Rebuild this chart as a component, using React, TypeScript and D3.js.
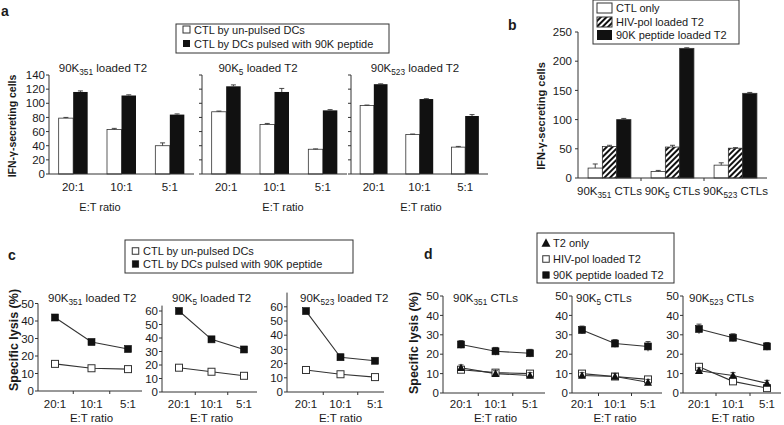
import React from "react";
import * as d3 from "d3";

const FONT = "'Liberation Sans', Arial, Helvetica, sans-serif";
const INK = "#1a1a1a";
const AXIS = "#333";

// E:T ratios, shared by every subplot
const ratios = ["20:1", "10:1", "5:1"];
// peptide subscripts (90K351, 90K5, 90K523)
const peptides = ["351", "5", "523"];

// panel a: IFN-γ secreting cells
const aUnpulsed = [[79, 63, 40], [88, 70, 35], [97, 56, 38]];
const aUnpulsedErr = [[1, 1.5, 4], [1, 1.5, 0.5], [0.5, 0.5, 1]];
const aPulsed = [[116, 111, 84], [124, 116, 90], [127, 106, 82]];
const aPulsedErr = [[1.5, 1, 1], [2, 5, 1], [0.5, 0.5, 2]];
const aTicks = [0, 20, 40, 60, 80, 100, 120, 140];

// panel b
const bCtlOnly = [17, 11, 22];
const bCtlOnlyErr = [7, 2, 4];
const bHivPol = [54, 53, 51];
const bHivPolErr = [2, 3, 1];
const bPeptide = [100, 222, 145];
const bPeptideErr = [2, 1, 1.5];
const bTicks = [0, 50, 100, 150, 200, 250];

// panel c: specific lysis
const cUnpulsed = [[15.5, 13, 12.5], [18, 15, 12], [15.5, 12.5, 10.5]];
const cUnpulsedErr = [[1.2, 1, 1], [1, 1, 1], [1.2, 1, 1]];
const cPulsed = [[42, 28, 24], [60, 39, 31.5], [57, 24.5, 22]];
const cPulsedErr = [[1.5, 1.5, 1.5], [1, 1, 1.5], [1.5, 2, 1.5]];
const cTicks = [[0, 10, 20, 30, 40, 50], [0, 10, 20, 30, 40, 50, 60], [0, 10, 20, 30, 40, 50, 60]];

// panel d
const dT2Only = [[13, 10, 9], [9, 8.5, 5.5], [11.5, 9, 5]];
const dT2OnlyErr = [[1.5, 1.5, 1.5], [1.5, 1.5, 1.5], [1.5, 1.5, 1.5]];
const dHivPol = [[12, 10.5, 10], [10, 8.5, 7], [13.5, 6, 2.5]];
const dHivPolErr = [[1.5, 1.5, 1.5], [1.5, 1, 1.5], [1, 1, 1]];
const dPeptide = [[25, 21.5, 20.5], [32.5, 25.5, 24], [33, 28.5, 24]];
const dPeptideErr = [[2, 2, 2], [2, 2, 2.5], [2.5, 2, 2]];
const dTicks = [0, 10, 20, 30, 40, 50];

// frame geometry
const aFrames = [
  { x0: 49, x1: 194, tx: 103, lx: 100 },
  { x0: 202, x1: 347, tx: 258, lx: 283 },
  { x0: 351, x1: 488, tx: 415, lx: 421 },
];
const cFrames = [
  { x0: 38, x1: 142, p0: 55, p1: 128, y0: 391, k: 1.75, top: 50, tx: 48 },
  { x0: 162, x1: 257, p0: 179, p1: 244, y0: 392, k: 1.35, top: 64, tx: 172 },
  { x0: 287, x1: 384, p0: 306, p1: 375, y0: 392, k: 1.42, top: 70, tx: 300 },
];
const dFrames = [
  { x0: 443, x1: 545, p0: 461, p1: 530, y0: 393, k: 1.94, top: 50, tx: 453 },
  { x0: 572, x1: 662, p0: 582, p1: 648, y0: 393, k: 1.94, top: 50, tx: 576 },
  { x0: 683, x1: 781, p0: 699, p1: 767, y0: 393, k: 1.94, top: 50, tx: 689 },
];

const Pep = ({ sub, rest, size }: { sub: string; rest: string; size: number }) => (
  <>
    <tspan>90K</tspan>
    <tspan fontSize={size * 0.72} dy={3}>{sub}</tspan>
    <tspan dy={-3}>{rest}</tspan>
  </>
);

const ErrBar = ({ x, y1, y2 }: { x: number; y1: number; y2: number }) => (
  <g stroke={AXIS} strokeWidth={0.9}>
    <line x1={x} x2={x} y1={y1} y2={y2} />
    <line x1={x - 2.5} x2={x + 2.5} y1={y2} y2={y2} />
  </g>
);

const Marker = ({ kind, x, y, s = 7 }: { kind: string; x: number; y: number; s?: number }) => {
  if (kind === "tri") {
    const h = s * 0.95;
    return <path d={`M${x},${y - h / 2 - 1}L${x + s / 2 + 0.5},${y + h / 2}L${x - s / 2 - 0.5},${y + h / 2}Z`} fill="#111" />;
  }
  if (kind === "open")
    return <rect x={x - s / 2} y={y - s / 2} width={s} height={s} fill="#fff" stroke="#333" strokeWidth={1} />;
  return <rect x={x - s / 2} y={y - s / 2} width={s} height={s} fill="#111" stroke="#111" strokeWidth={0.6} />;
};

function PanelASub({ i }: { i: number }) {
  const f = aFrames[i];
  const y = d3.scaleLinear().domain([0, 140]).range([174, 75]);
  const x = d3.scaleBand().domain(ratios).range([f.x0, f.x1]).paddingInner(0.4).paddingOuter(0.2);
  const xi = d3.scaleBand().domain(["u", "p"]).range([0, x.bandwidth()]);
  return (
    <g>
      {ratios.map((r, j) => {
        const gx = x(r)!;
        const u = aUnpulsed[i][j], p = aPulsed[i][j];
        const ux = gx + xi("u")!, px = gx + xi("p")!;
        const w = xi.bandwidth();
        return (
          <g key={r}>
            <rect x={ux} y={y(u)} width={w} height={y(0) - y(u)} fill="#fff" stroke={AXIS} strokeWidth={0.8} />
            <rect x={px} y={y(p)} width={w} height={y(0) - y(p)} fill="#111" />
            <ErrBar x={ux + w / 2} y1={y(u)} y2={y(u + aUnpulsedErr[i][j])} />
            <ErrBar x={px + w / 2} y1={y(p)} y2={y(p + aPulsedErr[i][j])} />
            <text x={gx + x.bandwidth() / 2} y={191} textAnchor="middle" fontSize={11.5}>{r}</text>
          </g>
        );
      })}
      <line x1={f.x0} x2={f.x1} y1={y(0)} y2={y(0)} stroke={AXIS} />
      <line x1={f.x0} x2={f.x0} y1={y(0)} y2={y(140)} stroke={AXIS} />
      {aTicks.map((t) => (
        <g key={t}>
          <line x1={f.x0 - 3} x2={f.x0} y1={y(t)} y2={y(t)} stroke={AXIS} />
          {i === 0 && (
            <text x={f.x0 - 4} y={y(t)} dy="0.36em" textAnchor="end" fontSize={11.5}>{t}</text>
          )}
        </g>
      ))}
      <text x={f.tx} y={72} textAnchor="middle" fontSize={11.5}>
        <Pep sub={peptides[i]} rest=" loaded T2" size={11.5} />
      </text>
      <text x={f.lx} y={211} textAnchor="middle" fontSize={11}>E:T ratio</text>
    </g>
  );
}

function PanelB() {
  const y = d3.scaleLinear().domain([0, 250]).range([178, 32]);
  const x = d3.scaleBand().domain(peptides).range([578, 767]).paddingInner(0.32).paddingOuter(0.16);
  const xi = d3.scaleBand().domain(["c", "h", "p"]).range([0, x.bandwidth()]);
  const w = xi.bandwidth();
  const series = [
    { key: "c", vals: bCtlOnly, errs: bCtlOnlyErr, fill: "#fff" },
    { key: "h", vals: bHivPol, errs: bHivPolErr, fill: "url(#hatch)" },
    { key: "p", vals: bPeptide, errs: bPeptideErr, fill: "#111" },
  ];
  return (
    <g>
      {peptides.map((g, j) => (
        <g key={g}>
          {series.map((s) => {
            const bx = x(g)! + xi(s.key)!;
            const v = s.vals[j];
            return (
              <g key={s.key}>
                <rect x={bx} y={y(v)} width={w} height={y(0) - y(v)} fill={s.fill} stroke={AXIS} strokeWidth={0.8} />
                <ErrBar x={bx + w / 2} y1={y(v)} y2={y(v + s.errs[j])} />
              </g>
            );
          })}
          <text x={x(g)! + x.bandwidth() / 2} y={195} textAnchor="middle" fontSize={11.5}>
            <Pep sub={g} rest=" CTLs" size={11.5} />
          </text>
          {j > 0 && (
            <line
              x1={(x(peptides[j - 1])! + x.bandwidth() + x(g)!) / 2}
              x2={(x(peptides[j - 1])! + x.bandwidth() + x(g)!) / 2}
              y1={y(0)} y2={y(0) + 3} stroke={AXIS}
            />
          )}
        </g>
      ))}
      <line x1={578} x2={767} y1={y(0)} y2={y(0)} stroke={AXIS} />
      <line x1={578} x2={578} y1={y(0)} y2={y(250)} stroke={AXIS} />
      {bTicks.map((t) => (
        <g key={t}>
          <line x1={575} x2={578} y1={y(t)} y2={y(t)} stroke={AXIS} />
          <text x={572} y={y(t)} dy="0.36em" textAnchor="end" fontSize={11.5}>{t}</text>
        </g>
      ))}
      <text transform="translate(545,116) rotate(-90)" textAnchor="middle" fontSize={11} fontWeight="bold">
        IFN-γ-secreting cells
      </text>
    </g>
  );
}

type Series = { vals: number[]; errs: number[]; marker: string };

function LineSub({ f, ticks, series, title }: { f: any; ticks: number[]; series: Series[]; title: React.ReactNode }) {
  const y = d3.scaleLinear().domain([0, f.top]).range([f.y0, f.y0 - f.top * f.k]);
  const x = d3.scalePoint().domain(ratios).range([f.p0, f.p1]);
  const line = d3.line<number>().x((_, j) => x(ratios[j])!).y((v) => y(v));
  return (
    <g>
      {series.map((s, si) => (
        <path key={si} d={line(s.vals)!} fill="none" stroke="#333" strokeWidth={1.1} />
      ))}
      {series.map((s, si) => (
        <g key={si}>
          {s.vals.map((v, j) => (
            <g key={j}>
              <ErrBar x={x(ratios[j])!} y1={y(v - s.errs[j])} y2={y(v + s.errs[j])} />
              <Marker kind={s.marker} x={x(ratios[j])!} y={y(v)} />
            </g>
          ))}
        </g>
      ))}
      <line x1={f.x0} x2={f.x1} y1={f.y0} y2={f.y0} stroke={AXIS} />
      <line x1={f.x0} x2={f.x0} y1={f.y0} y2={y(f.top)} stroke={AXIS} />
      {ticks.map((t) => (
        <g key={t}>
          <line x1={f.x0 - 3} x2={f.x0} y1={y(t)} y2={y(t)} stroke={AXIS} />
          <text x={f.x0 - 4} y={y(t)} dy="0.36em" textAnchor="end" fontSize={11.5}>{t}</text>
        </g>
      ))}
      {ratios.slice(1).map((r, j) => {
        const mx = (x(ratios[j])! + x(r)!) / 2;
        return <line key={r} x1={mx} x2={mx} y1={f.y0} y2={f.y0 + 3} stroke={AXIS} />;
      })}
      {ratios.map((r) => (
        <text key={r} x={x(r)!} y={408} textAnchor="middle" fontSize={11.5}>{r}</text>
      ))}
      <text x={(f.p0 + f.p1) / 2} y={422} textAnchor="middle" fontSize={11.5}>E:T ratio</text>
      <text x={f.tx} y={302} fontSize={11.5}>{title}</text>
    </g>
  );
}

export default function App() {
  return (
    <svg
      width={784}
      height={425}
      style={{ position: "absolute", left: 0, top: 0, background: "#fff" }}
      fontFamily={FONT}
      fill={INK}
    >
      <defs>
        <pattern id="hatch" width={4} height={4} patternUnits="userSpaceOnUse" patternTransform="rotate(45)">
          <rect width={4} height={4} fill="#fff" />
          <line x1={1} y1={0} x2={1} y2={4} stroke="#111" strokeWidth={2} />
        </pattern>
      </defs>
      <rect width={784} height={425} fill="#fff" />

      {/* panel a */}
      <text x={1} y={16} fontSize={14} fontWeight="bold">a</text>
      <rect x={176} y={24} width={213} height={29} fill="#fff" stroke={AXIS} />
      <rect x={183} y={26} width={7} height={7} fill="#fff" stroke="#333" />
      <text x={194} y={33.5} fontSize={11}>CTL by un-pulsed DCs</text>
      <rect x={183} y={40} width={7} height={7} fill="#111" />
      <text x={194} y={47.5} fontSize={11}>CTL by DCs pulsed with 90K peptide</text>
      {aFrames.map((_, i) => <PanelASub key={i} i={i} />)}
      <text transform="translate(16,126) rotate(-90)" textAnchor="middle" fontSize={10.5} fontWeight="bold">
        IFN-γ-secreting cells
      </text>

      {/* panel b */}
      <text x={508} y={30} fontSize={14} fontWeight="bold">b</text>
      <rect x={593} y={0} width={146} height={44} fill="#fff" stroke={AXIS} />
      <rect x={597} y={3} width={15} height={10} fill="#fff" stroke="#333" />
      <text x={616} y={12} fontSize={11}>CTL only</text>
      <rect x={597} y={17} width={15} height={10} fill="url(#hatch)" stroke="#333" />
      <text x={616} y={26} fontSize={11}>HIV-pol loaded T2</text>
      <rect x={597} y={30} width={15} height={10} fill="#111" />
      <text x={616} y={39} fontSize={11}>90K peptide loaded T2</text>
      <PanelB />

      {/* panel c */}
      <text x={8} y={260} fontSize={14} fontWeight="bold">c</text>
      <rect x={125} y={240} width={228} height={33} fill="#fff" stroke={AXIS} />
      <Marker kind="open" x={135.5} y={251} s={6.5} />
      <text x={143} y={255} fontSize={11}>CTL by un-pulsed DCs</text>
      <Marker kind="filled" x={135.5} y={264} s={6.5} />
      <text x={143} y={268} fontSize={11}>CTL by DCs pulsed with 90K peptide</text>
      {cFrames.map((f, i) => (
        <LineSub
          key={i}
          f={f}
          ticks={cTicks[i]}
          series={[
            { vals: cUnpulsed[i], errs: cUnpulsedErr[i], marker: "open" },
            { vals: cPulsed[i], errs: cPulsedErr[i], marker: "filled" },
          ]}
          title={<Pep sub={peptides[i]} rest=" loaded T2" size={11.5} />}
        />
      ))}
      <text transform="translate(18,340) rotate(-90)" textAnchor="middle" fontSize={12.5} fontWeight="bold">
        Specific lysis (%)
      </text>

      {/* panel d */}
      <text x={424} y={259} fontSize={14} fontWeight="bold">d</text>
      <rect x={537} y={233} width={137} height={50} fill="#fff" stroke={AXIS} />
      <Marker kind="tri" x={546} y={243} s={8} />
      <text x={553} y={247} fontSize={11}>T2 only</text>
      <Marker kind="open" x={546} y={259} s={6.5} />
      <text x={553} y={263} fontSize={11}>HIV-pol loaded T2</text>
      <Marker kind="filled" x={546} y={275} s={6.5} />
      <text x={553} y={279} fontSize={11}>90K peptide loaded T2</text>
      {dFrames.map((f, i) => (
        <LineSub
          key={i}
          f={f}
          ticks={dTicks}
          series={[
            { vals: dHivPol[i], errs: dHivPolErr[i], marker: "open" },
            { vals: dT2Only[i], errs: dT2OnlyErr[i], marker: "tri" },
            { vals: dPeptide[i], errs: dPeptideErr[i], marker: "filled" },
          ]}
          title={<Pep sub={peptides[i]} rest=" CTLs" size={11.5} />}
        />
      ))}
      <text transform="translate(418,343) rotate(-90)" textAnchor="middle" fontSize={12.5} fontWeight="bold">
        Specific lysis (%)
      </text>
    </svg>
  );
}
